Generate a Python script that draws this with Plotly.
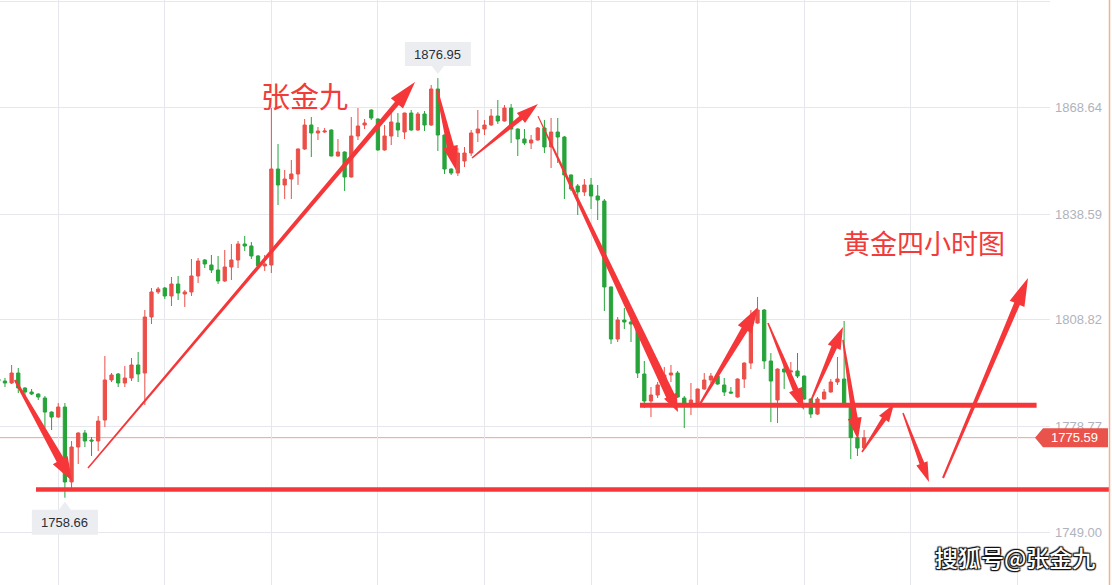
import math
import plotly.graph_objects as go

# ---------------- data (4h gold candles) ----------------
opens = [
    1792.13, 1791.56, 1791.00, 1793.82, 1789.59, 1788.46, 1787.90, 1786.77, 1782.81, 1781.40,
    1784.23, 1763.10, 1772.96, 1776.91, 1774.93, 1774.65, 1780.56, 1791.85, 1793.54, 1791.00,
    1792.41, 1796.08, 1793.82, 1809.61, 1816.66, 1817.78, 1815.53, 1818.91, 1816.09, 1816.66,
    1821.17, 1825.68, 1824.27, 1822.86, 1819.76, 1823.71, 1825.68, 1830.19, 1829.63, 1826.81,
    1823.99, 1824.27, 1851.33, 1846.82, 1848.51, 1849.92, 1856.97, 1863.73, 1861.48, 1861.76,
    1862.32, 1854.99, 1856.12, 1849.07, 1860.63, 1863.73, 1867.96, 1865.42, 1856.69, 1860.63,
    1864.30, 1861.76, 1867.11, 1862.32, 1866.83, 1863.73, 1873.88, 1860.91, 1851.33, 1850.20,
    1853.58, 1855.84, 1861.48, 1862.60, 1863.73, 1866.27, 1864.86, 1868.52, 1862.60, 1859.79,
    1858.66, 1859.50, 1862.89, 1857.53, 1861.76, 1860.35, 1849.64, 1846.54, 1844.85, 1846.82,
    1843.72, 1842.31, 1818.07, 1803.40, 1808.76, 1808.20, 1807.35, 1793.54, 1785.93, 1787.62,
    1790.44, 1793.26, 1793.82, 1786.77, 1784.80, 1784.80, 1789.31, 1791.85, 1792.97, 1790.44,
    1788.46, 1787.05, 1792.13, 1796.64, 1807.91, 1811.58, 1797.21, 1786.21, 1794.95, 1794.10,
    1794.39, 1792.97, 1786.49, 1782.25, 1786.49, 1788.46, 1791.28, 1792.13, 1784.80, 1775.59,
    1772.68,
]
highs = [
    1792.69, 1792.41, 1796.08, 1795.23, 1789.80, 1789.31, 1788.10, 1787.33, 1783.00, 1785.36,
    1785.36, 1774.65, 1777.10, 1777.75, 1775.78, 1781.69, 1798.61, 1793.82, 1793.82, 1795.80,
    1798.05, 1799.74, 1811.58, 1817.78, 1818.07, 1818.07, 1820.89, 1821.17, 1817.22, 1825.96,
    1826.24, 1825.96, 1827.09, 1826.81, 1828.50, 1830.19, 1831.03, 1832.44, 1830.75, 1827.09,
    1827.09, 1868.52, 1858.38, 1851.05, 1853.87, 1857.10, 1865.42, 1865.99, 1863.17, 1862.89,
    1862.50, 1859.79, 1856.30, 1865.99, 1868.52, 1865.42, 1868.10, 1865.60, 1863.73, 1867.11,
    1867.11, 1867.20, 1867.96, 1867.40, 1867.68, 1875.01, 1876.95, 1861.10, 1851.50, 1857.25,
    1857.53, 1862.32, 1867.96, 1865.14, 1868.24, 1870.78, 1869.37, 1869.65, 1862.80, 1862.60,
    1860.91, 1863.17, 1865.14, 1865.71, 1865.71, 1860.63, 1849.80, 1847.10, 1848.51, 1848.79,
    1846.82, 1842.88, 1818.20, 1809.61, 1812.14, 1810.73, 1807.50, 1797.21, 1789.87, 1791.28,
    1795.51, 1796.08, 1794.39, 1787.33, 1791.00, 1789.40, 1793.82, 1793.82, 1793.82, 1792.41,
    1789.87, 1792.30, 1796.80, 1811.58, 1815.25, 1811.86, 1799.46, 1795.10, 1796.64, 1796.92,
    1799.46, 1793.10, 1786.60, 1787.05, 1789.31, 1792.13, 1798.33, 1808.48, 1785.00, 1775.80,
    1777.75,
]
lows = [
    1791.00, 1789.87, 1790.72, 1788.18, 1786.21, 1787.62, 1786.21, 1778.30, 1777.75, 1781.20,
    1758.66, 1761.41, 1768.17, 1772.96, 1770.42, 1771.83, 1778.58, 1791.28, 1789.87, 1789.87,
    1791.56, 1791.28, 1784.80, 1807.63, 1816.09, 1814.68, 1812.71, 1814.40, 1812.43, 1815.53,
    1819.19, 1823.42, 1822.01, 1818.91, 1819.50, 1820.04, 1823.42, 1828.22, 1825.96, 1823.80,
    1822.58, 1822.01, 1841.18, 1842.88, 1842.88, 1846.82, 1856.69, 1854.71, 1859.50, 1861.48,
    1854.90, 1854.80, 1845.13, 1848.90, 1859.50, 1862.60, 1865.14, 1856.50, 1856.50, 1858.09,
    1860.35, 1859.79, 1862.10, 1862.10, 1862.04, 1863.50, 1856.40, 1849.92, 1849.64, 1849.36,
    1851.89, 1854.99, 1858.94, 1860.91, 1863.50, 1864.01, 1864.70, 1858.66, 1854.99, 1858.09,
    1856.97, 1859.30, 1855.84, 1851.61, 1853.02, 1842.88, 1845.13, 1838.36, 1843.72, 1840.05,
    1836.95, 1811.30, 1801.99, 1802.56, 1806.22, 1802.56, 1792.41, 1783.95, 1781.40, 1786.77,
    1790.20, 1791.28, 1786.77, 1778.30, 1781.97, 1784.23, 1789.10, 1791.00, 1790.50, 1787.33,
    1788.00, 1786.90, 1789.59, 1794.95, 1807.70, 1794.95, 1779.99, 1779.71, 1789.31, 1793.54,
    1792.41, 1786.21, 1781.12, 1781.97, 1786.30, 1788.30, 1790.44, 1784.60, 1769.58, 1770.42,
    1772.50,
]
closes = [
    1791.56, 1791.00, 1793.82, 1789.59, 1788.46, 1787.90, 1787.05, 1782.81, 1781.40, 1784.23,
    1763.10, 1772.96, 1776.91, 1774.65, 1774.65, 1780.27, 1791.85, 1793.26, 1791.00, 1792.41,
    1796.08, 1793.54, 1809.61, 1816.66, 1817.50, 1815.53, 1818.91, 1816.37, 1816.66, 1821.17,
    1825.40, 1824.55, 1822.86, 1819.76, 1823.71, 1825.68, 1830.19, 1829.63, 1826.81, 1823.99,
    1824.55, 1851.33, 1846.82, 1848.51, 1849.92, 1856.97, 1863.73, 1861.48, 1862.04, 1862.04,
    1854.99, 1856.12, 1849.07, 1860.63, 1863.45, 1864.30, 1865.71, 1856.69, 1860.63, 1864.58,
    1862.32, 1867.11, 1862.32, 1866.83, 1863.73, 1873.88, 1860.91, 1851.33, 1850.20, 1855.84,
    1855.84, 1861.48, 1862.60, 1863.73, 1866.27, 1864.86, 1868.52, 1862.60, 1859.79, 1858.66,
    1859.50, 1862.89, 1857.53, 1861.76, 1860.35, 1849.64, 1845.69, 1844.85, 1846.82, 1843.72,
    1842.59, 1818.07, 1803.40, 1808.76, 1808.20, 1807.63, 1793.82, 1785.93, 1787.62, 1790.44,
    1793.26, 1793.82, 1787.05, 1785.36, 1786.21, 1789.31, 1791.85, 1792.97, 1790.72, 1788.46,
    1788.18, 1792.13, 1796.64, 1807.91, 1811.58, 1797.21, 1791.56, 1794.95, 1794.10, 1794.39,
    1792.97, 1786.49, 1782.25, 1786.49, 1788.46, 1791.28, 1792.13, 1784.80, 1775.59, 1772.68,
    1775.59,
]
bar_index = list(range(len(opens)))

tick_values = [1898.41, 1868.64, 1838.59, 1808.82, 1778.77, 1749.00]
tick_labels = ["1898.41", "1868.64", "1838.59", "1808.82", "1778.77", "1749.00"]
grid_bars = [9, 25, 41, 57, 73, 89, 105, 121, 137, 153]

last_price = 1775.59
high_bar, high_price = 66, 1876.95
low_bar, low_price = 10, 1758.66

support_low_price = 1761.0      # long thick line
support_low_from = 5.66
support_mid_price = 1784.7      # shorter thick line
support_mid_from, support_mid_to = 96.35, 155.9

# drawn arrows: start bar, start price, end bar, end price
arrow_from_bar = [2.51, 13.47, 65.87, 71.12, 81.03, 105.36, 115.57, 121.87, 126.83, 129.68, 135.84, 141.85]
arrow_from_px = [1791.85, 1767.04, 1873.6, 1854.43, 1866.27, 1785.08, 1807.92, 1785.36, 1803.13, 1771.55, 1782.55, 1764.22]
arrow_to_bar = [11.07, 62.57, 68.72, 81.03, 102.06, 114.07, 120.97, 126.83, 129.08, 134.49, 139.74, 154.61]
arrow_to_px = [1763.38, 1875.85, 1851.05, 1869.65, 1782.83, 1812.43, 1783.39, 1806.79, 1775.0, 1785.08, 1763.10, 1820.6]
# arrow styles: tail width, neck width, head width, head length (pixels)
arrow_style = [(2.5, 8, 17, 24), (1.5, 5, 16, 28), (2, 7, 15, 24), (1.5, 5, 13, 22),
               (1, 9, 14, 18), (2, 7, 16, 26), (1.5, 6, 14, 22), (1.5, 6, 14, 22),
               (1.5, 6, 14, 22), (1.5, 5, 12, 18), (1.5, 5, 12, 20), (2, 6, 16, 28)]

# ---------------- layout geometry ----------------
FIG_W, FIG_H = 1112, 585
M_L, M_R, M_T, M_B = 0, 62, 0, 0
PW, PH = FIG_W - M_L - M_R, FIG_H - M_T - M_B
BAR_PX = 6.66
X0 = 0.255
X1 = X0 + PW / BAR_PX
Y1 = 1898.97
Y0 = Y1 - PH * 0.2819

RED = "#EB4F48"
GREEN = "#26A43A"
DRAW = "#F5373A"


def px_of(i, p):
    return ((i - X0) / (X1 - X0) * PW, (Y1 - p) / (Y1 - Y0) * PH)


def data_of(px, py):
    return (X0 + px / PW * (X1 - X0), Y1 - py / PH * (Y1 - Y0))


def paper_of(px, py):
    return (px / PW, 1 - py / PH)


def arrow_path(i0, p0, i1, p1, w0, w1, hw, hl):
    x0, y0 = px_of(i0, p0)
    x1, y1 = px_of(i1, p1)
    dx, dy = x1 - x0, y1 - y0
    L = math.hypot(dx, dy)
    ux, uy = dx / L, dy / L
    nx, ny = -uy, ux
    bx, by = x1 - ux * hl, y1 - uy * hl
    pts = [
        (x0 + nx * w0 / 2, y0 + ny * w0 / 2),
        (bx + nx * w1 / 2, by + ny * w1 / 2),
        (bx + nx * hw / 2, by + ny * hw / 2),
        (x1, y1),
        (bx - nx * hw / 2, by - ny * hw / 2),
        (bx - nx * w1 / 2, by - ny * w1 / 2),
        (x0 - nx * w0 / 2, y0 - ny * w0 / 2),
    ]
    d = [data_of(a, b) for a, b in pts]
    return "M " + " L ".join(f"{a:.4f},{b:.4f}" for a, b in d) + " Z"


def paper_poly(pts):
    d = [paper_of(a, b) for a, b in pts]
    return "M " + " L ".join(f"{a:.5f},{b:.5f}" for a, b in d) + " Z"


fig = go.Figure()
fig.add_trace(go.Candlestick(
    x=bar_index, open=opens, high=highs, low=lows, close=closes,
    increasing=dict(line=dict(color=RED, width=1), fillcolor=RED),
    decreasing=dict(line=dict(color=GREEN, width=1), fillcolor=GREEN),
    whiskerwidth=0, hoverinfo="skip", showlegend=False,
))

shapes = []
# current price thin line
shapes.append(dict(type="line", xref="paper", yref="y", x0=0, x1=1, y0=last_price, y1=last_price,
                   line=dict(color="rgba(235,80,72,0.55)", width=1), layer="below"))
# thick support lines
shapes.append(dict(type="line", xref="paper", yref="y",
                   x0=paper_of(px_of(support_low_from, 0)[0], 0)[0], x1=1110 / PW,
                   y0=support_low_price, y1=support_low_price,
                   line=dict(color=DRAW, width=4.5)))
shapes.append(dict(type="line", xref="x", yref="y",
                   x0=support_mid_from, x1=support_mid_to,
                   y0=support_mid_price, y1=support_mid_price,
                   line=dict(color=DRAW, width=5)))
# arrows
for k in range(len(arrow_from_bar)):
    w0, w1, hw, hl = arrow_style[k]
    shapes.append(dict(type="path", xref="x", yref="y",
                       path=arrow_path(arrow_from_bar[k], arrow_from_px[k], arrow_to_bar[k], arrow_to_px[k], w0, w1, hw, hl),
                       fillcolor=DRAW, line=dict(width=0)))

# high / low labels
annotations = []
LABEL_BG = "#EBEDF0"
hx, hy = px_of(high_bar, high_price)
shapes.append(dict(type="path", xref="paper", yref="paper",
                   path=paper_poly([(hx - 33, hy - 36), (hx + 33, hy - 36), (hx + 33, hy - 12),
                                    (hx + 6, hy - 12), (hx, hy - 4), (hx - 6, hy - 12), (hx - 33, hy - 12)]),
                   fillcolor=LABEL_BG, line=dict(width=0)))
ax_, ay_ = paper_of(hx, hy - 24)
annotations.append(dict(xref="paper", yref="paper", x=ax_, y=ay_, text=f"{high_price:.2f}", showarrow=False,
                        font=dict(family="Liberation Sans, Arial", size=13, color="#2A2E39"),
                        xanchor="center", yanchor="middle"))
lx, ly = px_of(low_bar, low_price)
shapes.append(dict(type="path", xref="paper", yref="paper",
                   path=paper_poly([(lx - 33, ly + 37), (lx + 33, ly + 37), (lx + 33, ly + 12),
                                    (lx + 6, ly + 12), (lx, ly + 4), (lx - 6, ly + 12), (lx - 33, ly + 12)]),
                   fillcolor=LABEL_BG, line=dict(width=0)))
ax_, ay_ = paper_of(lx, ly + 24.5)
annotations.append(dict(xref="paper", yref="paper", x=ax_, y=ay_, text=f"{low_price:.2f}", showarrow=False,
                        font=dict(family="Liberation Sans, Arial", size=13, color="#2A2E39"),
                        xanchor="center", yanchor="middle"))

# last price tag on the scale
_, ty = px_of(0, last_price)
shapes.append(dict(type="path", xref="paper", yref="paper",
                   path=paper_poly([(1035, ty), (1043, ty - 9.5), (1108, ty - 9.5), (1108, ty + 9.5), (1043, ty + 9.5)]),
                   fillcolor="#E9534B", line=dict(width=0)))
ax_, ay_ = paper_of(1074, ty)
annotations.append(dict(xref="paper", yref="paper", x=ax_, y=ay_, text=f"{last_price:.2f}", showarrow=False,
                        font=dict(family="Liberation Sans, Arial", size=13, color="white"),
                        xanchor="center", yanchor="middle"))

# right border line
shapes.append(dict(type="line", xref="paper", yref="paper", x0=1109.5 / PW, x1=1109.5 / PW, y0=0, y1=1,
                   line=dict(color="#F2B48E", width=1.5)))

# texts
annotations.append(dict(xref="x", yref="y", x=46.05, y=1872.2, text="张金九", showarrow=False,
                        font=dict(family="Noto Sans CJK SC", size=29, color="#F23B3B"),
                        xanchor="center", yanchor="middle"))
annotations.append(dict(xref="x", yref="y", x=139.0, y=1830.75, text="黄金四小时图", showarrow=False,
                        font=dict(family="Noto Sans CJK SC", size=27, color="#F23B3B"),
                        xanchor="center", yanchor="middle"))
wx, wy = paper_of(1015, 557)
annotations.append(dict(xref="paper", yref="paper", x=wx, y=wy, text="搜狐号@张金九", showarrow=False,
                        font=dict(family="Noto Sans CJK SC", size=23, color="white", weight=500,
                                  shadow="1px 1px 1px #111, -1px -1px 1px #111, 1px -1px 1px #111, -1px 1px 1px #111, 0px 0px 2px #111"),
                        xanchor="center", yanchor="middle"))

fig.update_layout(
    width=FIG_W, height=FIG_H,
    margin=dict(l=M_L, r=M_R, t=M_T, b=M_B),
    paper_bgcolor="white", plot_bgcolor="white",
    showlegend=False, dragmode=False,
    shapes=shapes, annotations=annotations,
    xaxis=dict(range=[X0, X1], rangeslider=dict(visible=False), showticklabels=False,
               tickvals=grid_bars, ticks="", showgrid=True, gridcolor="#E6E7EC", gridwidth=1,
               zeroline=False, showline=False, fixedrange=True),
    yaxis=dict(range=[Y0, Y1], side="right", tickvals=tick_values, ticktext=tick_labels,
               ticks="", showgrid=True, gridcolor="#E6E7EC", gridwidth=1, zeroline=False,
               showline=False, fixedrange=True, ticklabelstandoff=4,
               tickfont=dict(family="Liberation Sans, Arial", size=13, color="#B0B3BD")),
)

fig.write_html("out.html", config={"displayModeBar": False},
               post_script="document.body.style.margin='0px'; document.body.style.overflow='hidden';")
